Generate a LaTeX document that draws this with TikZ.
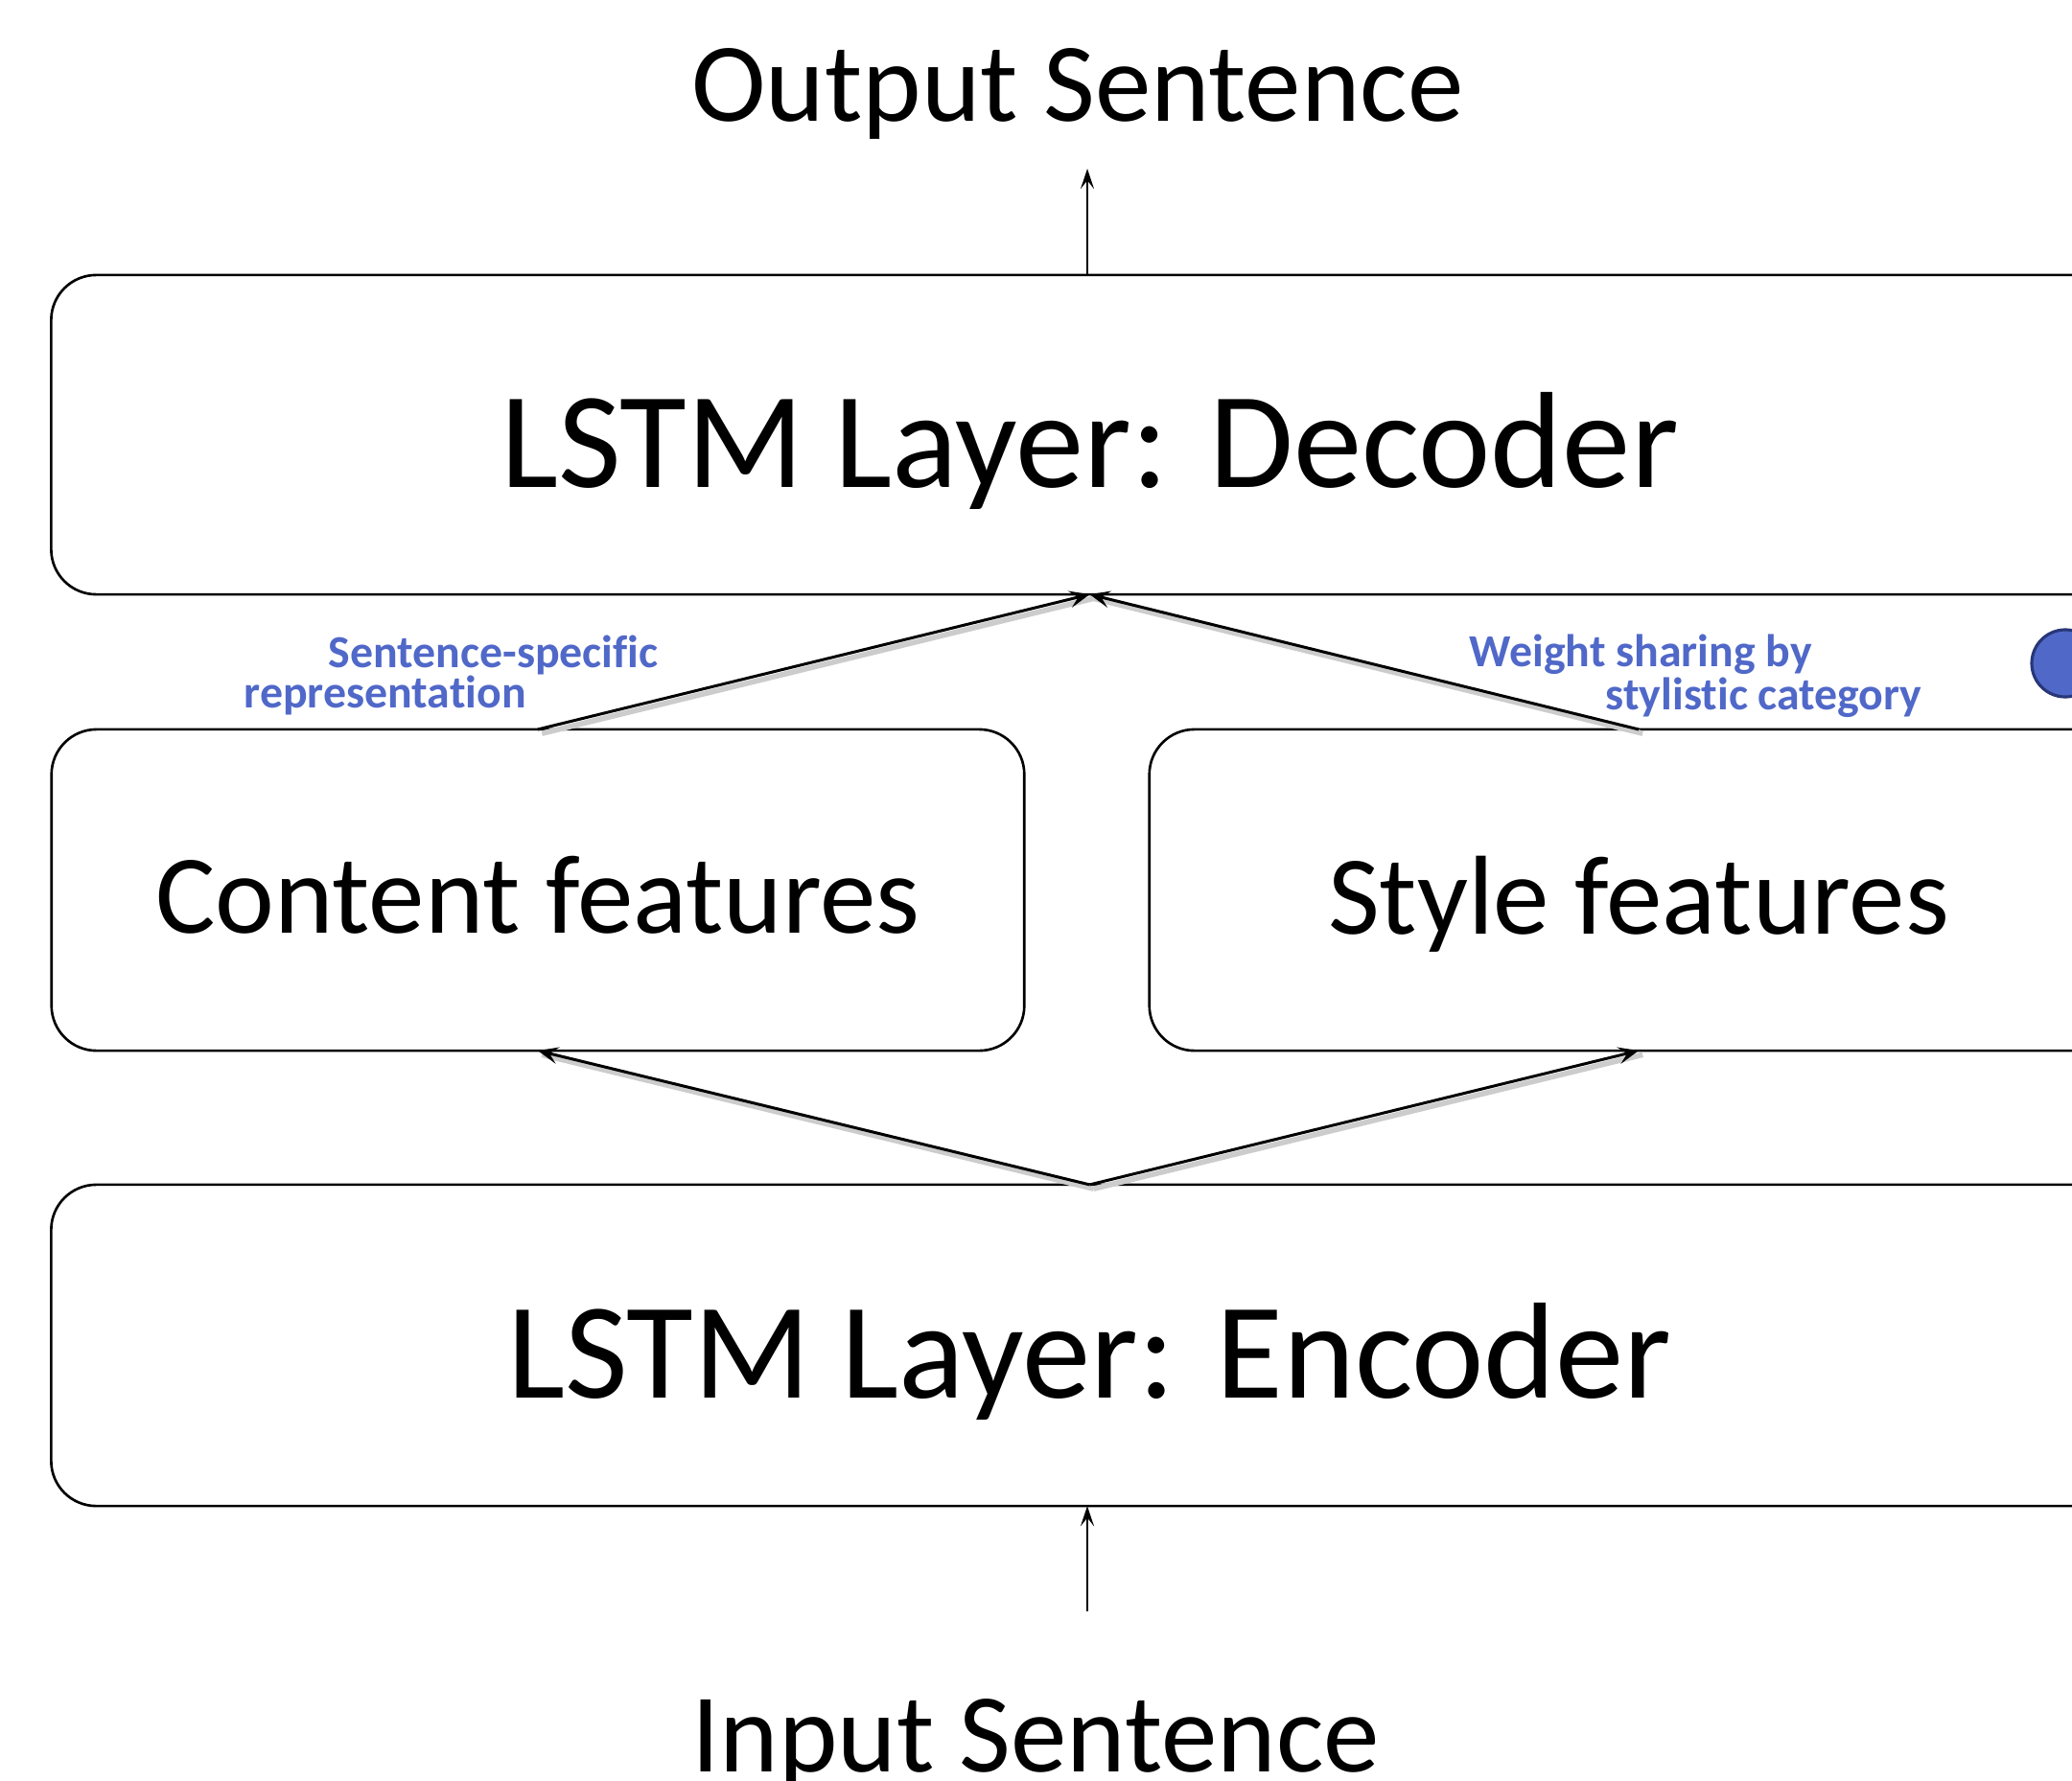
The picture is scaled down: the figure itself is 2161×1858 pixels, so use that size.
\documentclass[tikz,border=0pt]{standalone}
\usepackage{fontspec}
\setmainfont[Ligatures={NoCommon}]{Carlito}
\usetikzlibrary{arrows.meta}
\definecolor{lblblue}{RGB}{80,104,200}
\definecolor{dotedge}{RGB}{40,55,120}
\begin{document}
\begin{tikzpicture}[x=0.01cm,y=-0.01cm,
  box/.style={draw,rounded corners=0.47cm,line width=0.75pt,inner sep=0pt,outer sep=0pt,align=center,text depth=0pt},
  bigtxt/.style={font=\fontsize{40.6}{48}\selectfont},
  midtxt/.style={font=\fontsize{33.3}{40}\selectfont},
  iotxt/.style={font=\fontsize{33.3}{40}\selectfont,anchor=base,inner sep=0pt},
  lbl/.style={font=\bfseries\fontsize{13.6}{16}\selectfont,text=lblblue,anchor=base west,inner sep=0pt},
  shad/.style={preaction={draw=black!20,line width=1.6pt,transform canvas={shift={(1.2pt,-1.2pt)}},-}},
  conn/.style={line width=0.85pt,-{Stealth[length=6pt,width=5pt,inset=2.5pt]}},
  vconn/.style={line width=0.6pt,-{Stealth[length=6pt,width=4pt,inset=2.5pt]}}]
\useasboundingbox (0,0) rectangle (2161,1858);
\clip (0,0) rectangle (2161,1858);
% boxes
\node[box,bigtxt,minimum width=21.65cm,minimum height=3.33cm] (dec) at (1136.5,453.5) {\raisebox{-3pt}{LSTM Layer: Decoder}};
\node[box,midtxt,minimum width=10.14cm,minimum height=3.35cm] (cont) at (561,928.5) {\raisebox{-3pt}{Content features}};
\node[box,midtxt,minimum width=10.20cm,minimum height=3.35cm] (sty) at (1709,928.5) {\raisebox{-3pt}{Style features}};
\node[box,bigtxt,minimum width=21.65cm,minimum height=3.35cm] (enc) at (1136.5,1403.5) {\raisebox{-3pt}{LSTM Layer: Encoder}};
% input / output texts
\node[iotxt] (out) at (1124,127) {Output Sentence};
\node[iotxt] (inp) at (1080,1848) {Input Sentence};
\coordinate (outtip) at (1134,176);
\coordinate (inbase) at (1134,1681);
% connectors
\draw[vconn] (outtip |- dec.north) -- (outtip);
\draw[vconn] (inbase) -- (inbase |- enc.south);
\draw[conn,shad] (cont.north) -- (dec.south);
\draw[conn,shad] (sty.north) -- (dec.south);
\draw[conn,shad] (enc.north) -- (cont.south);
\draw[conn,shad] (enc.north) -- (sty.south);
% labels
\node[lbl] (l1) at (342,696) {Sentence-specific};
\node[lbl] (l2) at (254,738) {representation};
\node[lbl] (l3) at (1532,695) {Weight sharing by};
\node[lbl] (l4) at (1674,740) {stylistic category};
% blue dot
\node[circle,draw=dotedge,fill=lblblue,line width=0.9pt,minimum size=0.7cm,inner sep=0pt] (dot) at (2154,692) {};
\end{tikzpicture}
\end{document}
